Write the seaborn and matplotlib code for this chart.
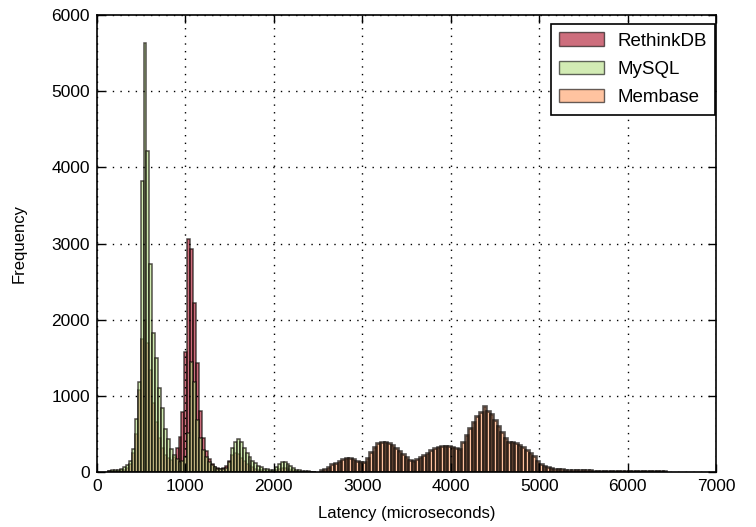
import numpy as np
import pandas as pd
import matplotlib
matplotlib.use("Agg")
import matplotlib.pyplot as plt
import seaborn as sns

# ---- data ----
series_names = ["RethinkDB", "MySQL", "Membase"]

fast_bin_start = 130
fast_bin_width = 33
rethinkdb_counts = [10, 12, 15, 18, 22, 30, 50, 100, 250, 500,
                    1075, 1750, 2000, 1700, 1340, 900, 650, 450, 320, 220,
                    180, 160, 200, 310, 460, 790, 1580, 3053, 2922, 2218,
                    1430, 800, 450, 280, 170, 110, 70, 50, 45, 50,
                    80, 150, 220, 250, 230, 190, 150, 110, 80, 60,
                    40, 30, 20, 15, 12, 10, 10, 20, 40, 50,
                    50, 40, 30, 20, 10, 5, 3, 2, 1, 1, 0]
mysql_counts = [15, 20, 25, 30, 40, 60, 90, 150, 300, 700,
                1185, 3820, 5630, 4217, 2730, 1820, 1500, 1100, 840, 570,
                430, 300, 220, 170, 130, 140, 200, 510, 1450, 1185,
                680, 450, 290, 200, 130, 90, 60, 45, 40, 40,
                50, 135, 310, 400, 430, 395, 310, 250, 200, 150,
                120, 75, 60, 45, 35, 30, 30, 60, 110, 135,
                130, 110, 80, 50, 30, 20, 15, 10, 8, 5, 5]

membase_bin_start = 2520
membase_bin_width = 40
membase_counts = [20, 40, 70, 100, 120, 150, 170, 180, 180, 170,
                  150, 135, 125, 180, 265, 330, 375, 400, 400, 385,
                  360, 320, 280, 230, 200, 160, 150, 175, 195, 225,
                  255, 290, 310, 330, 345, 345, 340, 325, 310, 300,
                  400, 480, 580, 660, 740, 790, 860, 800, 760, 680,
                  600, 520, 440, 400, 400, 385, 360, 330, 290, 250,
                  210, 150, 110, 80, 60, 50, 45, 40, 35, 32,
                  28, 25, 22, 22, 20, 20, 20, 18, 18, 18,
                  16, 16, 16, 15, 15, 15, 14, 14, 13, 13,
                  12, 12, 12, 11, 11, 10, 10, 10]

x_ticks = [0, 1000, 2000, 3000, 4000, 5000, 6000, 7000]
y_ticks = [0, 1000, 2000, 3000, 4000, 5000, 6000]

series_colors = {"RethinkDB": "#ac0d26", "MySQL": "#b4de82", "Membase": "#ff9b61"}
edge_widths = {"RethinkDB": 1.1, "MySQL": 1.1, "Membase": 1.9}
alpha = 0.6

plt.rcParams["font.family"] = ["Liberation Sans", "DejaVu Sans"]

def series_frame(name, start, width, counts):
    counts = np.asarray(counts, dtype=float)
    n = len(counts)
    centers = start + width * (np.arange(n) + 0.5)
    df = pd.DataFrame({"latency": centers, "count": counts, "db": name})
    return df, start, width, n

frames = [
    series_frame("RethinkDB", fast_bin_start, fast_bin_width, rethinkdb_counts),
    series_frame("MySQL", fast_bin_start, fast_bin_width, mysql_counts),
    series_frame("Membase", membase_bin_start, membase_bin_width, membase_counts),
]

fig = plt.figure(figsize=(7.56, 5.27), dpi=100, facecolor="white")
ax = fig.add_axes([97 / 756, 55 / 527, 619 / 756, 457 / 527])
ax.set_facecolor("white")

for (df, start, width, n), name in zip(frames, series_names):
    sns.histplot(data=df, x="latency", weights="count",
                 binwidth=width, binrange=(start, start + width * n),
                 stat="count", element="bars", fill=True,
                 color=series_colors[name], alpha=alpha,
                 edgecolor=(0.05, 0.03, 0.02, 0.7), linewidth=edge_widths[name],
                 label=name, ax=ax)

ax.set_xlim(0, 7000)
ax.set_ylim(0, 6000)
ax.set_xticks(x_ticks)
ax.set_yticks(y_ticks)
ax.set_xlabel("Latency (microseconds)", fontsize=12, labelpad=9)
ax.set_ylabel("Frequency", fontsize=12, labelpad=18)
ax.tick_params(direction="in", length=6, width=1, top=True, right=True,
               labelsize=12.5, colors="black", pad=5)
ax.grid(True, linestyle=(0, (1, 4.5)), color="black", linewidth=1.0)
ax.set_axisbelow(False)
for sp in ax.spines.values():
    sp.set_color("black")
    sp.set_linewidth(1.2)

# legend box placed at the reference pixel position (right 715, top 24)
leg = ax.legend(loc="upper right",
                bbox_to_anchor=((715 - 97) / 619, (472 - 24) / 457),
                borderaxespad=0.0,
                fontsize=13.5, frameon=True, fancybox=False,
                handlelength=2.4, handleheight=0.7, labelspacing=0.6,
                handletextpad=0.7, borderpad=0.45)
leg.get_frame().set_edgecolor("black")
leg.get_frame().set_linewidth(1.2)
leg.get_frame().set_alpha(1.0)
for h in leg.legend_handles:
    h.set_linewidth(1.0)
    h.set_edgecolor((0, 0, 0, 0.6))

fig.savefig("out.png", dpi=100, facecolor="white")
